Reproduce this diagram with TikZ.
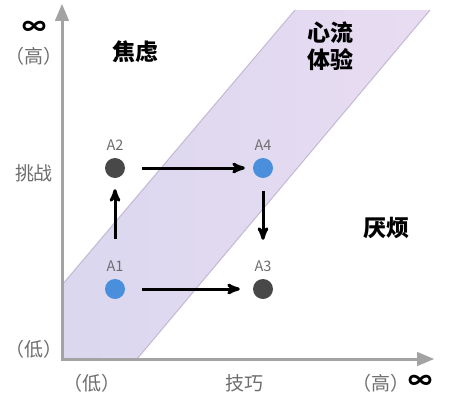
\documentclass[tikz,border=0pt]{standalone}
\usepackage{fontspec}
\newfontfamily\cjk{Noto Sans CJK SC}
\usepackage{tikz}
\usetikzlibrary{arrows}
\usetikzlibrary{positioning}
\definecolor{axisgray}{HTML}{A3A3A3}
\definecolor{textgray}{HTML}{6E6E6E}
\definecolor{dotdark}{HTML}{484848}
\definecolor{dotblue}{HTML}{4A8FDB}
\definecolor{bandlow}{HTML}{DAD7EF}
\definecolor{bandhigh}{HTML}{E9DCF2}
\definecolor{bandedge}{HTML}{C4B8D4}
\tikzset{
 dot/.style={circle, inner sep=0, minimum size=20},
 ptlabel/.style={textgray, font=\cjk\fontsize{14.5}{14.5}\selectfont, inner sep=1},
 axlabel/.style={textgray, font=\cjk\fontsize{19}{19}\selectfont, inner sep=0},
 zone/.style={black, font=\cjk\bfseries\fontsize{23}{27}\selectfont, inner sep=0, align=center},
 inf/.style={black, font=\cjk\bfseries\fontsize{24}{24}\selectfont, inner sep=0},
 move/.style={black, line width=3, ->, >=stealth'}
}

\begin{document}
\begin{tikzpicture}[x=1pt, y=-1pt]
\useasboundingbox[fill=white] (0,0) rectangle (450,405);
% flow band
\shade[left color=bandlow, right color=bandhigh] (62,359) -- (62,285) -- (295,10) -- (430,10) -- (137,359) -- cycle;
\draw[bandedge, line width=1] (62,285) -- (295,10);
\draw[bandedge, line width=1] (137,359) -- (430,10);
% axes
\draw[axisgray, line width=3, ->, >=triangle 45] (62,361) -- (62,4);
\draw[axisgray, line width=3, ->, >=triangle 45] (61,359) -- (434,359);
% axis texts
\node[inf] (vinf) at (34,28) {∞};
\node[axlabel] (vhigh) at (34,56) {（高）};
\node[axlabel] (vname) at (34,173) {挑战};
\node[axlabel] (vlow) at (34,349) {（低）};
\node[axlabel] (hlow) at (92,383) {（低）};
\node[axlabel] (hname) at (244,383) {技巧};
\node[axlabel] (hhigh) at (381,383) {（高）};
\node[inf] (hinf) at (420,382) {∞};
% zones
\node[zone] (anxiety) at (135,52) {焦虑};
\node[zone] (flow) at (330,46) {心流\\体验};
\node[zone] (boredom) at (386,228) {厌烦};
% states
\node[dot, fill=dotblue] (a1) at (115,289) {};
\node[dot, fill=dotdark] (a2) at (115,168) {};
\node[dot, fill=dotdark] (a3) at (263,289) {};
\node[dot, fill=dotblue] (a4) at (263,168) {};
\foreach \p/\t in {a1/A1,a2/A2,a3/A3,a4/A4} {
 \node[ptlabel, above=6pt of \p] (\p lab) {\t};
}
\draw[move, shorten <=40, shorten >=11] (a1) -- (a2);
\draw[move, shorten <=17, shorten >=8] (a2) -- (a4);
\draw[move, shorten <=13, shorten >=39] (a4) -- (a3);
\draw[move, shorten <=17, shorten >=13] (a1) -- (a3);
\end{tikzpicture}
\end{document}
